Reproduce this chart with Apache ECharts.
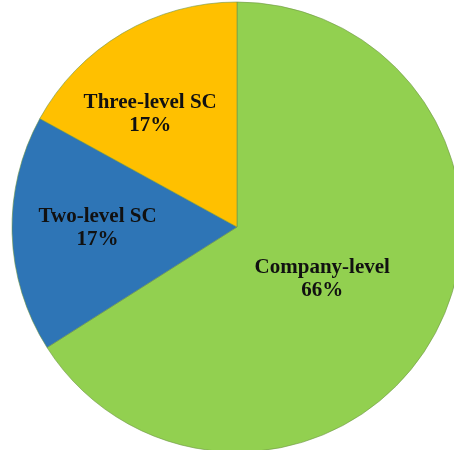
<!DOCTYPE html>
<html>
<head>
<meta charset="utf-8">
<script src="https://cdn.jsdelivr.net/npm/echarts@6/dist/echarts.min.js"></script>
<style>
  html, body { margin: 0; padding: 0; background: #ffffff; }
  #chart { width: 454px; height: 450px; }
</style>
</head>
<body>
<div id="chart"></div>
<script>
// Share of safety committees by level
const categories = ['Company-level', 'Two-level SC', 'Three-level SC'];
const shares = [66, 17, 17];
const sliceColors = ['#92D050', '#2E75B6', '#FFC000'];
// per-slice label nudges (px) to sit each label within its wedge
const labelOffsets = [[-16, -4], [-24, -3], [-28, -14]];

const chart = echarts.init(document.getElementById('chart'), null, { renderer: 'canvas' });

const pieData = categories.map((name, i) => ({
  name: name,
  value: shares[i],
  itemStyle: { color: sliceColors[i] },
  label: { offset: labelOffsets[i] }
}));

chart.setOption({
  animation: false,
  backgroundColor: '#ffffff',
  series: [{
    type: 'pie',
    center: [237, 227],
    radius: 225,
    startAngle: 90,
    clockwise: true,
    avoidLabelOverlap: false,
    percentPrecision: 0,
    itemStyle: {
      borderColor: 'rgba(110,150,70,0.75)',
      borderWidth: 0.8
    },
    label: {
      show: true,
      position: 'inside',
      formatter: '{b}\n{d}%',
      fontFamily: '"Liberation Serif", "Times New Roman", serif',
      fontWeight: 'bold',
      fontSize: 21,
      lineHeight: 23,
      color: '#111111',
      align: 'center'
    },
    labelLine: { show: false },
    emphasis: { disabled: true },
    data: pieData
  }]
});
</script>
</body>
</html>
